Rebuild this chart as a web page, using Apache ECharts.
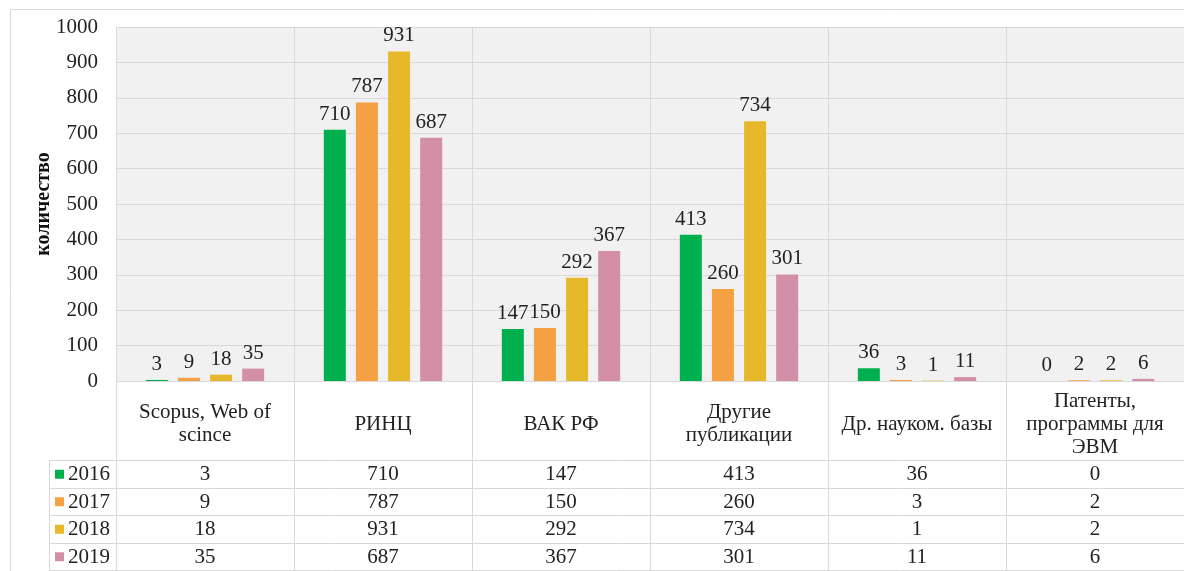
<!DOCTYPE html>
<html>
<head>
<meta charset="utf-8">
<script src="https://cdn.jsdelivr.net/npm/echarts@6/dist/echarts.min.js"></script>
<style>
  html, body { margin: 0; padding: 0; background: #fff; }
  #main { width: 1184px; height: 571px; }
</style>
</head>
<body>
<div id="main"></div>
<script>
  var categories = ['Scopus, Web of scince', 'РИНЦ', 'ВАК РФ', 'Другие публикации', 'Др. науком. базы', 'Патенты, программы для ЭВМ'];
  var categoryLabels = ['Scopus, Web of\nscince', 'РИНЦ', 'ВАК РФ', 'Другие\nпубликации', 'Др. науком. базы', 'Патенты,\nпрограммы для\nЭВМ'];
  var years = ['2016', '2017', '2018', '2019'];
  var data2016 = [3, 710, 147, 413, 36, 0];
  var data2017 = [9, 787, 150, 260, 3, 2];
  var data2018 = [18, 931, 292, 734, 1, 2];
  var data2019 = [35, 687, 367, 301, 11, 6];
  var colors = ['#00b04f', '#f4a043', '#e7b92a', '#d48fa8'];

  var FONT = 'Liberation Serif';
  var FS = 21;
  var lineColor = '#d9d9d9';
  var allData = [data2016, data2017, data2018, data2019];

  var chart = echarts.init(document.getElementById('main'));

  var series = [];
  for (var i = 0; i < years.length; i++) {
    series.push({
      name: years[i],
      type: 'bar',
      barWidth: 22,
      barGap: '46%',
      itemStyle: { color: colors[i] },
      label: {
        show: true,
        position: 'top',
        distance: 5,
        fontFamily: FONT,
        fontSize: FS,
        color: '#222'
      },
      data: allData[i]
    });
  }

  chart.setOption({
    animation: false,
    color: colors,
    grid: {
      left: 116,
      top: 27,
      width: 1071,
      height: 354,
      show: true,
      borderWidth: 0,
      backgroundColor: '#f1f1f1'
    },
    xAxis: {
      type: 'category',
      data: categories,
      axisLine: { lineStyle: { color: lineColor } },
      axisTick: { show: false },
      splitLine: { show: true, lineStyle: { color: lineColor } },
      axisLabel: {
        interval: 0,
        margin: 43,
        verticalAlign: 'middle',
        fontFamily: FONT,
        fontSize: FS,
        lineHeight: 23,
        color: '#222',
        formatter: function (v, idx) { return categoryLabels[idx]; }
      }
    },
    yAxis: {
      type: 'value',
      min: 0,
      max: 1000,
      interval: 100,
      name: 'количество',
      nameLocation: 'middle',
      nameRotate: 90,
      nameGap: 62,
      nameMoveOverlap: false,
      nameTextStyle: { fontFamily: FONT, fontSize: 20, fontWeight: 'bold', color: '#111' },
      axisLine: { show: false },
      axisTick: { show: false },
      splitLine: { lineStyle: { color: lineColor } },
      axisLabel: {
        margin: 18, fontFamily: FONT, fontSize: FS, color: '#222',
        formatter: function (v) { return String(v); }
      }
    },
    series: series
  });

  // data table (with legend keys) under the plot
  function drawTable() {
    var x0 = chart.convertToPixel({ xAxisIndex: 0 }, categories[0]);
    var x1 = chart.convertToPixel({ xAxisIndex: 0 }, categories[1]);
    var band = x1 - x0;
    var yBase = chart.convertToPixel({ yAxisIndex: 0 }, 0);
    var headerH = 79;
    var rowH = 27.5;
    var tableTop = yBase + headerH;
    var tableBottom = tableTop + rowH * years.length;
    var left = x0 - band / 2;
    var right = left + band * categories.length;
    var legendLeft = 49;

    var g = [];
    // outer chart border
    g.push({ type: 'rect', shape: { x: 10.5, y: 9.5, width: 1300, height: 700 },
      style: { fill: null, stroke: lineColor, lineWidth: 1 }, silent: true, z: 0 });

    for (var c = 0; c <= categories.length; c++) {
      var xb = Math.round(left + band * c) + 0.5;
      g.push({ type: 'line', shape: { x1: xb, y1: yBase, x2: xb, y2: tableBottom },
        style: { stroke: lineColor, lineWidth: 1 }, silent: true });
    }
    g.push({ type: 'line', shape: { x1: legendLeft + 0.5, y1: tableTop, x2: legendLeft + 0.5, y2: tableBottom },
      style: { stroke: lineColor, lineWidth: 1 }, silent: true });
    for (var r = 0; r <= years.length; r++) {
      var yr = Math.round(tableTop + rowH * r) + 0.5;
      g.push({ type: 'line', shape: { x1: legendLeft, y1: yr, x2: right, y2: yr },
        style: { stroke: lineColor, lineWidth: 1 }, silent: true });
    }
    for (var s = 0; s < years.length; s++) {
      var cy = tableTop + rowH * s + rowH / 2 + 1;
      // legend key
      g.push({ type: 'rect', shape: { x: 55, y: cy - 5, width: 9, height: 9 },
        style: { fill: colors[s] }, silent: true });
      g.push({ type: 'text', x: 68, y: cy,
        style: { text: years[s], fontFamily: FONT, fontSize: FS, fill: '#222', align: 'left', verticalAlign: 'middle' },
        silent: true });
      for (var k = 0; k < categories.length; k++) {
        var cx = chart.convertToPixel({ xAxisIndex: 0 }, categories[k]);
        g.push({
          type: 'text',
          x: cx,
          y: cy,
          style: {
            text: String(allData[s][k]),
            fontFamily: FONT,
            fontSize: FS,
            fill: '#222',
            align: 'center',
            verticalAlign: 'middle'
          },
          silent: true
        });
      }
    }
    chart.setOption({ graphic: g });
  }
  drawTable();
</script>
</body>
</html>
